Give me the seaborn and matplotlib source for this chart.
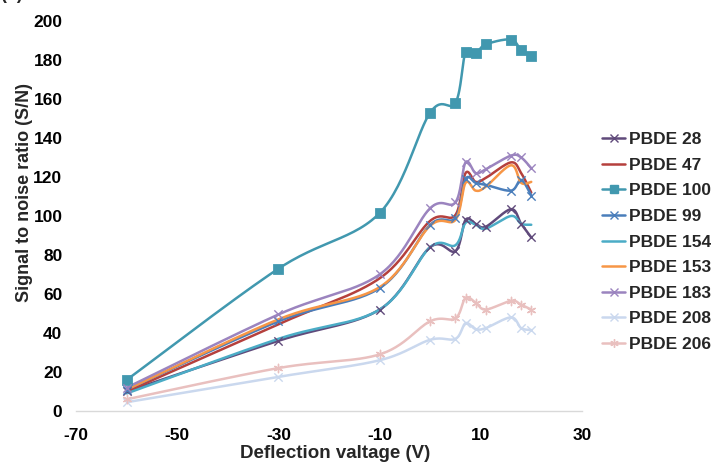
import numpy as np
import pandas as pd
import seaborn as sns
import matplotlib.pyplot as plt
from matplotlib.lines import Line2D

# deflection voltage (V)
voltage = [-60, -30, -10, 0, 5, 7, 9, 11, 16, 18, 20]

pbde_28 = [10, 36, 52, 84, 82, 98, 96, 94.5, 103.5, 96, 89]
pbde_47 = [10, 44.5, 68, 97.5, 100.5, 122, 117.5, 119.5, 127.5, 122, 112]
pbde_100 = [16, 73, 101.5, 153, 158, 184, 183.5, 188, 190.5, 185, 182]
pbde_99 = [11, 46, 63, 95.5, 99, 119, 117, 116, 113, 118.5, 110.5]
pbde_154 = [9, 37, 52, 84, 85, 96.5, 95.5, 93.5, 100, 96, 95.5]
pbde_153 = [11, 47, 63.5, 95, 98, 117, 113, 115, 126, 117, 117.5]
pbde_183 = [12, 49.5, 70, 104, 107, 127.5, 122, 124, 131, 130, 124.5]
pbde_208 = [4.5, 17.5, 26, 36.5, 37, 45, 42, 42.5, 48, 42.5, 41.5]
pbde_206 = [6, 22, 29, 46, 47.5, 58, 55.5, 52, 56.5, 54.5, 52]

series = {
    'PBDE 28': pbde_28, 'PBDE 47': pbde_47, 'PBDE 100': pbde_100,
    'PBDE 99': pbde_99, 'PBDE 154': pbde_154, 'PBDE 153': pbde_153,
    'PBDE 183': pbde_183, 'PBDE 208': pbde_208, 'PBDE 206': pbde_206,
}
colors = {
    'PBDE 28': '#604A7B', 'PBDE 47': '#B5403D', 'PBDE 100': '#4198AF',
    'PBDE 99': '#4A7EBB', 'PBDE 154': '#4BACC6', 'PBDE 153': '#F79646',
    'PBDE 183': '#9B84BF', 'PBDE 208': '#CAD8EE', 'PBDE 206': '#E9C0BF',
}
markers = {
    'PBDE 28': 'x', 'PBDE 47': None, 'PBDE 100': 's', 'PBDE 99': 'x',
    'PBDE 154': None, 'PBDE 153': None, 'PBDE 183': 'x', 'PBDE 208': 'x',
    'PBDE 206': (6, 2, 0),
}


def smooth(xs, ys, n=30):
    # excel-like smoothed line (catmull-rom bezier through the points)
    p = np.column_stack([xs, ys]).astype(float)
    p = np.vstack([p[0], p, p[-1]])
    out = []
    t = np.linspace(0, 1, n)[:, None]
    for i in range(1, len(p) - 2):
        p0, p1, p2, p3 = p[i - 1], p[i], p[i + 1], p[i + 2]
        c1 = p1 + (p2 - p0) / 6
        c2 = p2 - (p3 - p1) / 6
        seg = ((1 - t) ** 3) * p1 + 3 * ((1 - t) ** 2) * t * c1 + 3 * (1 - t) * t ** 2 * c2 + t ** 3 * p2
        out.append(seg if i == 1 else seg[1:])
    return np.vstack(out)


sns.set_theme(style='white')
plt.rcParams['font.family'] = ['Liberation Sans', 'DejaVu Sans']
plt.rcParams['font.weight'] = 'bold'
plt.rcParams['axes.unicode_minus'] = False

fig = plt.figure(figsize=(7.13, 4.67), dpi=100)
ax = fig.add_axes([0.107, 0.12, 0.709, 0.835])

handles = []
for name, vals in series.items():
    curve = smooth(voltage, vals)
    df = pd.DataFrame({'x': curve[:, 0], 'y': curve[:, 1]})
    sns.lineplot(data=df, x='x', y='y', sort=False, estimator=None,
                 color=colors[name], lw=1.8, ax=ax)
    m = markers[name]
    if m is not None:
        pts = pd.DataFrame({'x': voltage, 'y': vals})
        if m == 's':
            sns.scatterplot(data=pts, x='x', y='y', marker='s', s=50,
                            color=colors[name], edgecolor=colors[name], ax=ax, zorder=5)
        else:
            sns.scatterplot(data=pts, x='x', y='y', marker=m, s=36,
                            color=colors[name], linewidth=1.0, ax=ax, zorder=5)
    handles.append(Line2D([], [], color=colors[name], lw=1.8,
                          marker=m if m is not None else None,
                          markersize=6, mew=1.0, label=name))

ax.set_xlim(-70, 30)
ax.set_ylim(0, 200)
ax.set_xticks(range(-70, 31, 20))
ax.set_yticks(range(0, 201, 20))
for s in ['top', 'right', 'left']:
    ax.spines[s].set_visible(False)
ax.spines['bottom'].set_color('#D9D9D9')
ax.spines['bottom'].set_linewidth(1.0)
ax.tick_params(axis='both', length=0, labelsize=12.5, colors='black')
ax.tick_params(axis='x', pad=12)
ax.tick_params(axis='y', pad=10)
for lab in ax.get_xticklabels() + ax.get_yticklabels():
    lab.set_fontweight('bold')
ax.set_xlabel('Deflection valtage (V)', fontsize=13.5, fontweight='bold')
ax.set_ylabel('Signal to noise ratio (S/N)', fontsize=13, fontweight='bold')
ax.xaxis.set_label_coords(0.512, -0.087)
ax.yaxis.set_label_coords(-0.085, 0.559)

fig.legend(handles=handles, loc='upper left', bbox_to_anchor=(0.845, 0.717),
           frameon=False, labelspacing=0.6, handlelength=1.3,
           handletextpad=0.2, borderpad=0, borderaxespad=0,
           prop={'weight': 'bold', 'size': 12.5})

fig.text(0.0, 1.003, '(b)', fontsize=13, fontweight='bold', va='baseline', ha='left')

fig.savefig('out.png', dpi=100)
